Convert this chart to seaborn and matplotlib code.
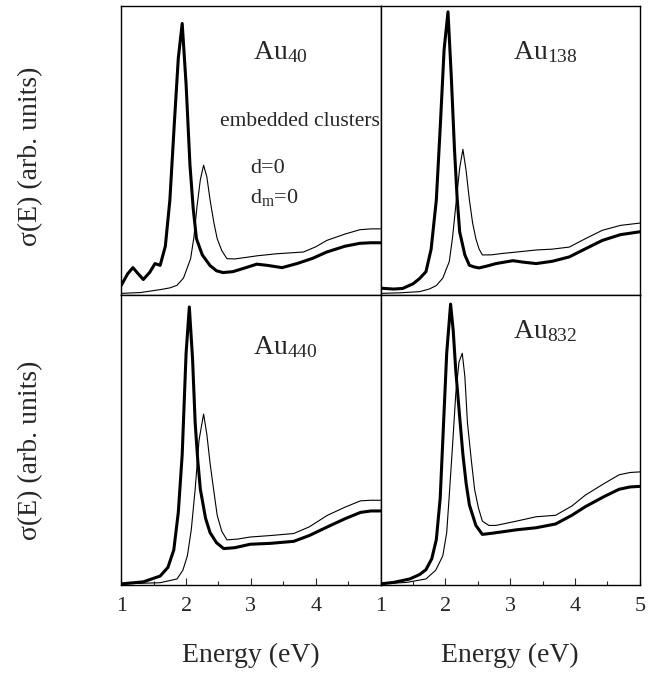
"""
Optical absorption of embedded Au clusters (2x2 panels), redrawn with seaborn.
"""

import matplotlib
matplotlib.use("Agg")
import matplotlib.pyplot as plt
import matplotlib.ticker as mticker
import seaborn as sns

sns.set_style("ticks")
plt.rcParams["font.family"] = ["Liberation Serif", "DejaVu Serif"]
plt.rcParams["mathtext.fontset"] = "custom"
plt.rcParams["mathtext.rm"] = "Liberation Serif"
plt.rcParams["mathtext.it"] = "Liberation Serif"

# ── data (energy in eV, sigma in fraction of panel height) ──

au40_e_thick = [1.00, 1.10, 1.18, 1.26, 1.34, 1.44, 1.52, 1.60, 1.68, 1.75, 1.82, 1.88, 1.94,
                2.00, 2.06, 2.11, 2.16, 2.25, 2.37, 2.47, 2.57, 2.72, 2.88, 3.09, 3.25, 3.48,
                3.71, 3.95, 4.17, 4.45, 4.68, 4.85, 5.00]
au40_thick = [0.035, 0.075, 0.096, 0.075, 0.055, 0.080, 0.110, 0.104, 0.170, 0.330, 0.600, 0.820, 0.940,
              0.730, 0.450, 0.300, 0.196, 0.140, 0.103, 0.085, 0.079, 0.082, 0.093, 0.108, 0.104, 0.096,
              0.110, 0.128, 0.150, 0.170, 0.180, 0.182, 0.182]

au40_e_thin = [1.00, 1.30, 1.60, 1.75, 1.86, 1.96, 2.07, 2.12, 2.17, 2.22, 2.27, 2.32, 2.37, 2.43,
               2.48, 2.55, 2.63, 2.75, 2.88, 3.10, 3.40, 3.81, 4.00, 4.17, 4.45, 4.68, 4.85, 5.00]
au40_thin = [0.007, 0.010, 0.020, 0.026, 0.035, 0.060, 0.127, 0.200, 0.310, 0.400, 0.450, 0.410, 0.330, 0.250,
             0.196, 0.155, 0.127, 0.126, 0.130, 0.137, 0.144, 0.150, 0.168, 0.190, 0.212, 0.227, 0.230, 0.230]

au138_e_thick = [1.00, 1.20, 1.34, 1.50, 1.60, 1.70, 1.78, 1.86, 1.92, 1.98, 2.04, 2.09, 2.14, 2.18,
                 2.22, 2.30, 2.37, 2.45, 2.52, 2.65, 2.78, 3.04, 3.20, 3.40, 3.65, 3.91, 4.15, 4.42,
                 4.70, 5.00]
au138_thick = [0.025, 0.022, 0.024, 0.040, 0.058, 0.082, 0.160, 0.330, 0.580, 0.850, 0.980, 0.760, 0.505, 0.340,
               0.220, 0.140, 0.104, 0.098, 0.095, 0.102, 0.110, 0.120, 0.115, 0.110, 0.118, 0.133, 0.160, 0.190,
               0.210, 0.220]

au138_e_thin = [1.00, 1.30, 1.60, 1.75, 1.86, 1.96, 2.06, 2.11, 2.16, 2.22, 2.27, 2.32, 2.37, 2.42,
                2.47, 2.52, 2.57, 2.70, 2.88, 3.10, 3.40, 3.65, 3.91, 4.15, 4.42, 4.70, 5.00]
au138_thin = [0.007, 0.009, 0.013, 0.022, 0.034, 0.060, 0.117, 0.200, 0.310, 0.440, 0.505, 0.430, 0.330, 0.250,
              0.196, 0.160, 0.140, 0.140, 0.145, 0.150, 0.157, 0.160, 0.167, 0.195, 0.225, 0.242, 0.250]

au440_e_thick = [1.00, 1.34, 1.60, 1.72, 1.81, 1.88, 1.94, 2.00, 2.05, 2.10, 2.14, 2.18, 2.22, 2.30,
                 2.37, 2.47, 2.58, 2.75, 2.99, 3.30, 3.66, 3.90, 4.18, 4.45, 4.69, 4.85, 5.00]
au440_thick = [0.003, 0.010, 0.030, 0.060, 0.120, 0.250, 0.450, 0.800, 0.960, 0.780, 0.560, 0.430, 0.330, 0.230,
               0.180, 0.145, 0.125, 0.128, 0.140, 0.143, 0.150, 0.170, 0.200, 0.228, 0.250, 0.255, 0.255]

au440_e_thin = [1.00, 1.60, 1.86, 1.95, 2.02, 2.08, 2.14, 2.20, 2.27, 2.32, 2.37, 2.43, 2.48, 2.55,
                2.63, 2.80, 2.99, 3.30, 3.66, 3.90, 4.18, 4.45, 4.69, 4.85, 5.00]
au440_thin = [0.003, 0.007, 0.020, 0.050, 0.100, 0.190, 0.330, 0.500, 0.590, 0.520, 0.420, 0.320, 0.240, 0.185,
              0.155, 0.158, 0.165, 0.170, 0.177, 0.200, 0.240, 0.268, 0.290, 0.292, 0.292]

au832_e_thick = [1.00, 1.20, 1.45, 1.60, 1.70, 1.79, 1.86, 1.92, 1.96, 2.02, 2.08, 2.12, 2.16, 2.22,
                 2.27, 2.32, 2.37, 2.47, 2.57, 2.72, 2.88, 3.10, 3.40, 3.70, 3.95, 4.16, 4.45, 4.68,
                 4.85, 5.00]
au832_thick = [0.003, 0.008, 0.020, 0.035, 0.052, 0.090, 0.156, 0.300, 0.500, 0.800, 0.970, 0.880, 0.740, 0.580,
               0.450, 0.350, 0.276, 0.205, 0.174, 0.178, 0.183, 0.190, 0.197, 0.210, 0.240, 0.270, 0.305, 0.330,
               0.338, 0.340]

au832_e_thin = [1.00, 1.40, 1.70, 1.85, 1.96, 2.02, 2.06, 2.11, 2.16, 2.21, 2.26, 2.30, 2.34, 2.40,
                2.45, 2.51, 2.57, 2.67, 2.78, 3.10, 3.40, 3.70, 3.95, 4.16, 4.45, 4.68, 4.85, 5.00]
au832_thin = [0.003, 0.008, 0.020, 0.050, 0.100, 0.180, 0.310, 0.480, 0.660, 0.770, 0.800, 0.720, 0.560, 0.430,
              0.330, 0.265, 0.220, 0.205, 0.205, 0.220, 0.235, 0.240, 0.272, 0.310, 0.350, 0.380, 0.388, 0.390]

panel_labels = ["Au$_{40}$", "Au$_{138}$", "Au$_{440}$", "Au$_{832}$"]
label_pos = [(3.46, 0.84), (3.54, 0.84), (3.53, 0.82), (3.54, 0.875)]

panels = [
    (au40_e_thick, au40_thick, au40_e_thin, au40_thin),
    (au138_e_thick, au138_thick, au138_e_thin, au138_thin),
    (au440_e_thick, au440_thick, au440_e_thin, au440_thin),
    (au832_e_thick, au832_thick, au832_e_thin, au832_thin),
]

fig, axes = plt.subplots(2, 2, figsize=(6.59, 6.76), dpi=100)
fig.subplots_adjust(left=0.184, right=0.971, top=0.991, bottom=0.135, wspace=0, hspace=0)

for i, ax in enumerate(axes.flat):
    e_thick, s_thick, e_thin, s_thin = panels[i]
    sns.lineplot(x=e_thin, y=s_thin, ax=ax, color="black", linewidth=0.8)
    sns.lineplot(x=e_thick, y=s_thick, ax=ax, color="black", linewidth=2.2)
    ax.set_xlim(1, 5)
    ax.set_ylim(0, 1)
    ax.set_yticks([])
    ax.set_ylabel("")
    for sp in ax.spines.values():
        sp.set_linewidth(1.0)
        sp.set_color("black")
    x0, y0 = label_pos[i]
    ax.text(x0, y0, panel_labels[i], ha="center", va="center", fontsize=20)

    if i >= 2:
        ax.xaxis.set_major_locator(mticker.MultipleLocator(1))
        ax.xaxis.set_minor_locator(mticker.MultipleLocator(0.5))
        ax.tick_params(axis="x", which="major", direction="in", length=5, width=0.8,
                       labelsize=16, pad=9)
        ax.tick_params(axis="x", which="minor", direction="in", length=3, width=0.8)
        ax.set_xlabel("Energy (eV)", fontsize=20)
        ax.xaxis.set_label_coords(0.5, -0.20)
    else:
        ax.set_xticks([])

axes[1, 0].set_xticks([1, 2, 3, 4])

axes[0, 0].set_ylabel("σ(E) (arb. units)", fontsize=20)
axes[0, 0].yaxis.set_label_coords(-0.30, 0.48)
axes[1, 0].set_ylabel("σ(E) (arb. units)", fontsize=20)
axes[1, 0].yaxis.set_label_coords(-0.30, 0.465)

ax = axes[0, 0]
ax.text(2.53, 0.60, "embedded clusters", ha="left", va="center", fontsize=15.5)
ax.text(2.99, 0.44, "d=0", ha="left", va="center", fontsize=16)
ax.text(2.99, 0.34, "d$_{\\rm m}$=0", ha="left", va="center", fontsize=16)

plt.savefig("out.png", dpi=100)
plt.close()
